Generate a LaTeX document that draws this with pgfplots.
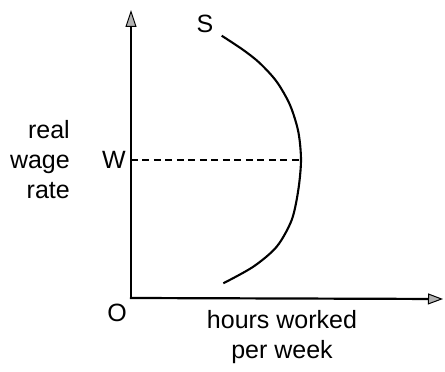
\documentclass[border=0pt]{standalone}
\usepackage{pgfplots}
\pgfplotsset{compat=1.18}
\usepackage{fontspec}
\setmainfont{Liberation Sans}
\usetikzlibrary{arrows.meta}
\begin{document}
\begin{tikzpicture}
\begin{axis}[
  scale only axis, width=312pt, height=288pt,
  xmin=0, xmax=312, ymin=0, ymax=288,
  axis lines=none,
  xtick=\empty, ytick=\empty,
  clip=false,
]
\draw[line width=2.2pt, -{Triangle[length=17pt,width=11pt,open,fill=gray!60,line width=1pt]}] (axis cs:0,-1) -- (axis cs:0,288);
\draw[line width=2.2pt, -{Triangle[length=15pt,width=11pt,open,fill=gray!60,line width=1pt]}] (axis cs:-1,0) -- (axis cs:312,-1);
\addplot[line width=2.1pt, smooth, black] coordinates {
(90.7,262.3) (112.3,248) (129,234.7) (145.7,216.3) (159,193) (167.3,166.3) (170,138) (167.3,108) (160.7,78) (145.7,51.3) (122.3,31.3) (92.3,14.7)};
\addplot[line width=1.4pt, dash pattern=on 7pt off 4.5pt, black] coordinates {(0,138) (170,138)};
\node[font=\fontsize{25}{30}\selectfont] at (axis cs:74,274) {S};
\node[font=\fontsize{25}{30}\selectfont, anchor=east, inner sep=0pt] at (axis cs:-5,138) {W};
\node[font=\fontsize{25}{30}\selectfont] at (axis cs:-14,-15) {O};
\node[font=\fontsize{25}{30}\selectfont, anchor=east, align=right, inner sep=0pt] at (axis cs:-61,138) {real\\wage\\rate};
\node[font=\fontsize{25}{30}\selectfont, align=center, inner sep=0pt] at (axis cs:151,-39) {hours worked\\per week};
\end{axis}
\pgfresetboundingbox
\path (-131pt,-74pt) rectangle (314pt,298pt);
\end{tikzpicture}
\end{document}
